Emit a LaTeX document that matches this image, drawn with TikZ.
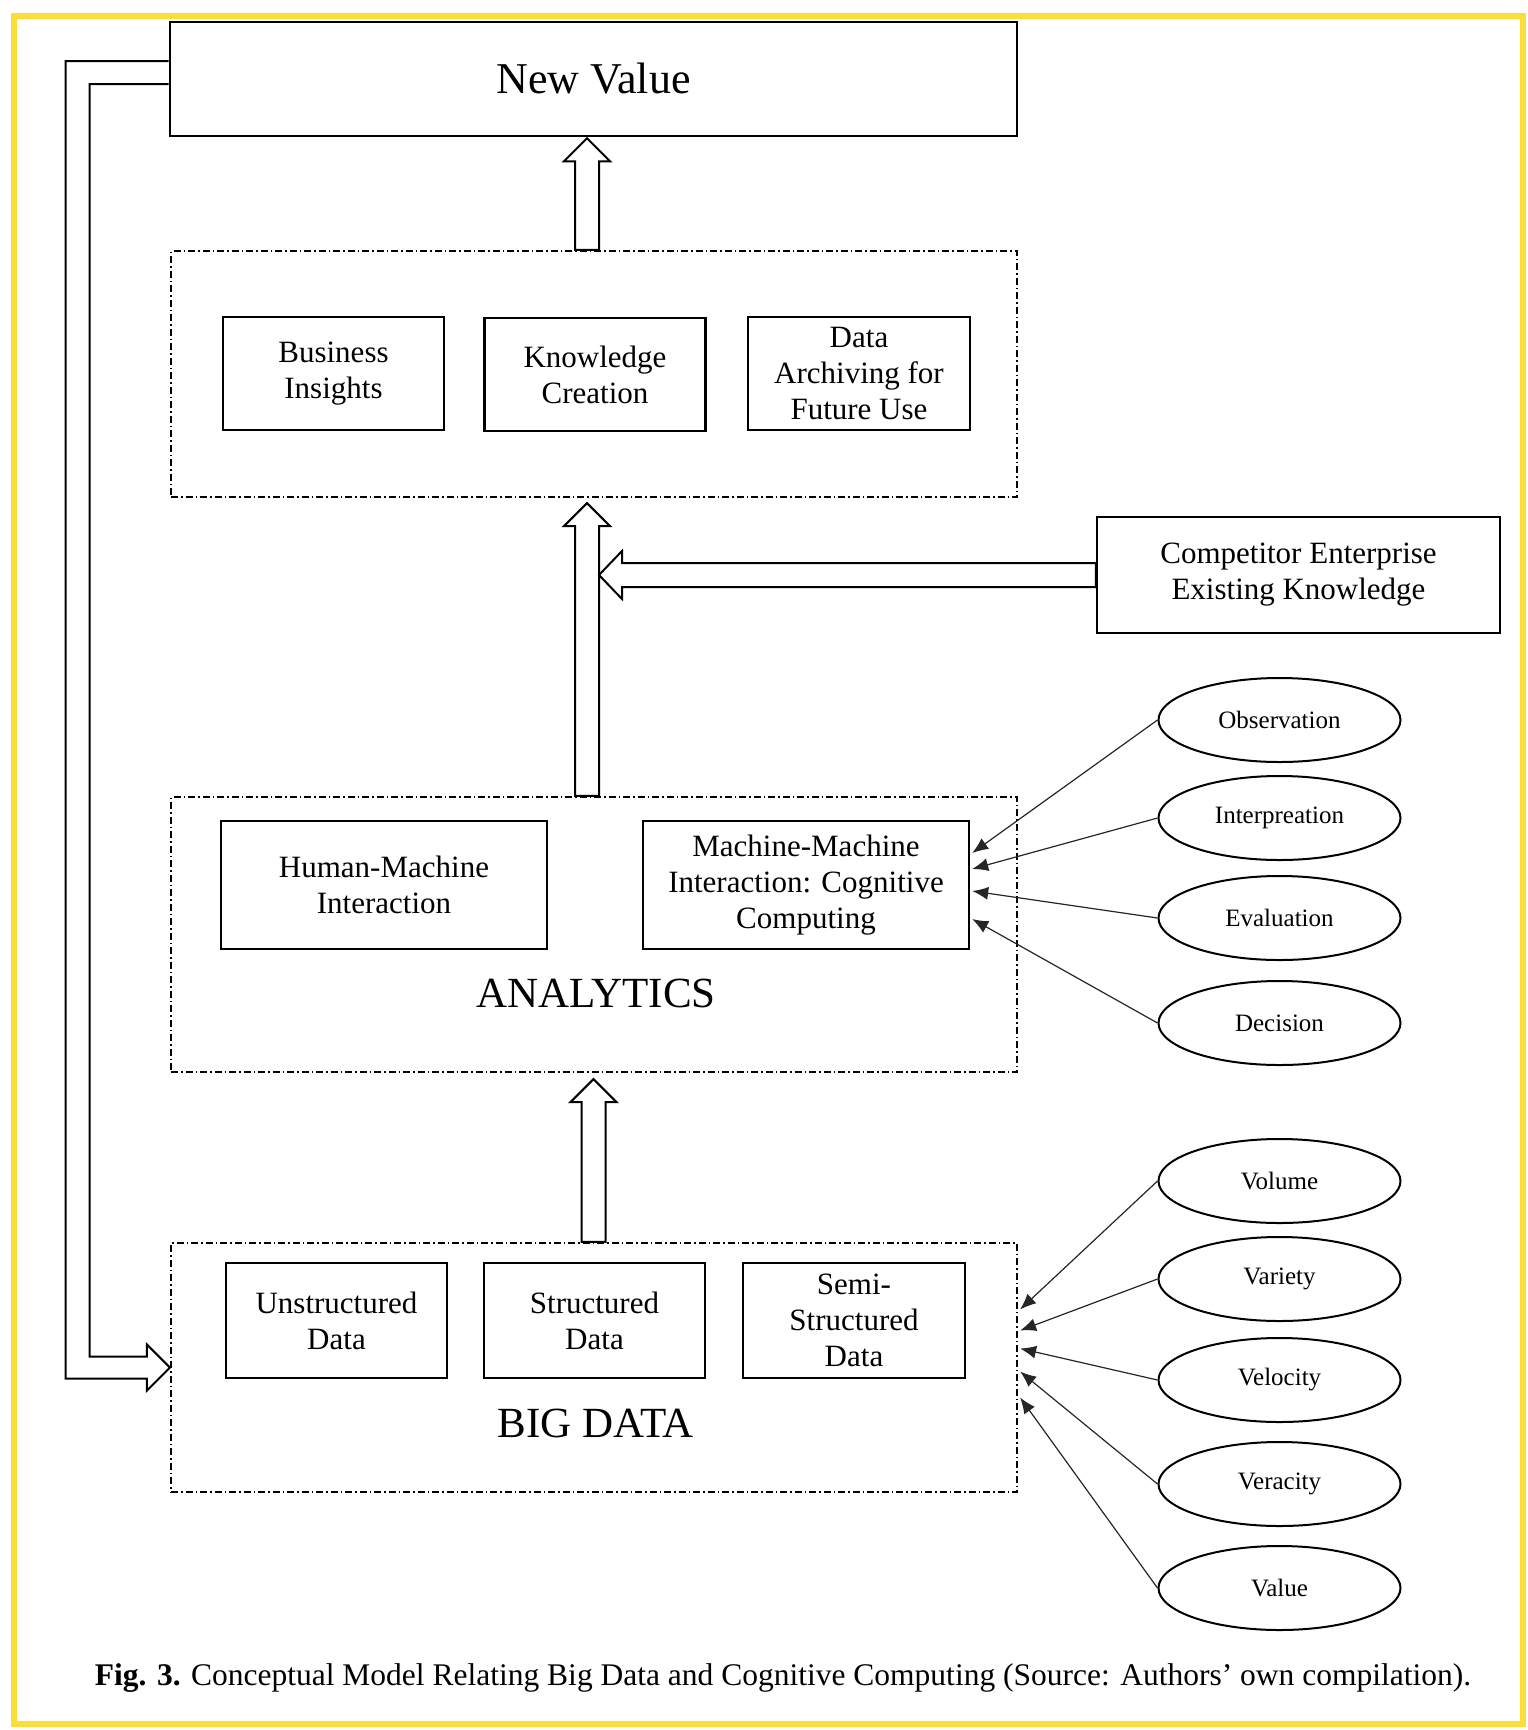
\documentclass[tikz,border=0pt]{standalone}
\usepackage{fontspec}
\setmainfont{Liberation Serif}
\usetikzlibrary{positioning,calc,shapes.geometric,arrows.meta}
\definecolor{framegold}{RGB}{254,221,58}

% hollow block arrows (foot, tip)
\newcommand{\vblock}[2]{%
  \draw[blockarrow] let \p1=(#1), \p2=(#2) in
    (\x1-12pt,\y1) -- (\x1-12pt,\y2-23pt) -- (\x1-23pt,\y2-23pt) -- (\x1,\y2)
    -- (\x1+23pt,\y2-23pt) -- (\x1+12pt,\y2-23pt) -- (\x1+12pt,\y1) -- cycle;}
\newcommand{\hblock}[2]{%
  \draw[blockarrow] let \p1=(#1), \p2=(#2) in
    (\x1,\y1+12pt) -- (\x2+23pt,\y1+12pt) -- (\x2+23pt,\y1+24pt) -- (\x2,\y1)
    -- (\x2+23pt,\y1-24pt) -- (\x2+23pt,\y1-12pt) -- (\x1,\y1-12pt) -- cycle;}

\begin{document}
\begin{tikzpicture}[x=1pt,y=-1pt,
    box/.style={draw,line width=2.4pt,minimum width=221pt,minimum height=113pt,
      align=center,inner sep=0pt,font=\fontsize{31}{36}\selectfont},
    group/.style={draw,line width=2.2pt,dash pattern=on 7pt off 3pt on 1.5pt off 3pt,
      minimum width=846pt,inner sep=0pt},
    facet/.style={draw,ellipse,line width=2pt,minimum width=242pt,minimum height=84pt,
      inner sep=0pt,font=\fontsize{25}{30}\selectfont},
    feed/.style={-{Latex[length=16pt,width=13pt]},line width=1.2pt,draw=black!85},
    blockarrow/.style={draw,line width=2pt,fill=white,line join=miter},
    headline/.style={font=\fontsize{43}{50}\selectfont}]

    \useasboundingbox (0,0) rectangle (1527,1730);
    \draw[framegold,line width=6pt] (14,16) rectangle (1523,1724);

    % top
    \node[box,minimum width=847pt,minimum height=114pt,line width=2.6pt,
      font=\fontsize{44}{50}\selectfont] (newval) at (593.5,79) {New Value};

    % outcomes
    \node[group,minimum height=246pt] (outcomes) at (594,374) {};
    \node[box] (insights) at (333.5,373.5) {Business\\Insights};
    \node[box] (knowledge) at (595,374.5) {Knowledge\\Creation};
    \node[box,minimum width=222pt] (archive) at (859,373.5) {Data\\Archiving for\\Future Use};

    \node[box,minimum width=403pt,minimum height=116pt] (comp) at (1298.5,575)
      {Competitor Enterprise\\Existing Knowledge};

    % analytics
    \node[group,minimum height=275pt] (analytics) at (594,934.5) {};
    \node[box,minimum width=326pt,minimum height=128pt] (hm) at (384,885)
      {Human-Machine\\Interaction};
    \node[box,minimum width=326pt,minimum height=128pt] (mm) at (806,885)
      {Machine-Machine\\Interaction: Cognitive\\Computing};
    \node[headline] (analyticslabel) at (596,993) {ANALYTICS};

    % big data
    \node[group,minimum height=249pt] (bigdata) at (594,1367.5) {};
    \node[box,minimum height=115pt] (unstr) at (336.5,1320.5) {Unstructured\\Data};
    \node[box,minimum height=115pt] (str) at (594.5,1320.5) {Structured\\Data};
    \node[box,minimum width=222pt,minimum height=115pt] (semi) at (854,1320.5)
      {Semi-\\Structured\\Data};
    \node[headline] (bigdatalabel) at (596,1423) {BIG DATA};

    % cognitive steps
    \node[facet] (obs) at (1279.5,720) {Observation};
    \node[facet] (interp) at (1279.5,818) {Interpreation};
    \node[facet] (eval) at (1279.5,918) {Evaluation};
    \node[facet] (dec) at (1279.5,1023) {Decision};

    % the Vs
    \node[facet] (volume) at (1279.5,1181) {Volume};
    \node[facet] (variety) at (1279.5,1279) {Variety};
    \node[facet] (velocity) at (1279.5,1380) {Velocity};
    \node[facet] (veracity) at (1279.5,1484) {Veracity};
    \node[facet] (value) at (1279.5,1588) {Value};

    \draw[feed] (obs.west) -- ($(mm.east)+(2,-32)$);
    \draw[feed] (interp.west) -- ($(mm.east)+(2,-16)$);
    \draw[feed] (eval.west) -- ($(mm.east)+(2,6)$);
    \draw[feed] (dec.west) -- ($(mm.east)+(2,34)$);

    \draw[feed] (volume.west) -- ($(bigdata.east)+(2,-58)$);
    \draw[feed] (variety.west) -- ($(bigdata.east)+(2,-37)$);
    \draw[feed] (velocity.west) -- ($(bigdata.east)+(2,-19)$);
    \draw[feed] (veracity.west) -- ($(bigdata.east)+(2,4)$);
    \draw[feed] (value.west) -- ($(bigdata.east)+(2,30)$);

    % hollow arrows
    \vblock{$(outcomes.north)+(-7,0)$}{$(newval.south)+(-7,1)$}
    \vblock{$(analytics.north)+(-7,0)$}{$(outcomes.south)+(-7,5)$}
    \vblock{$(bigdata.north)+(-0.5,0)$}{$(analytics.south)+(-0.5,6)$}
    \hblock{comp.west}{$(comp.west -| analytics.north)+(5,0)$}

    % feedback loop
    \draw[blockarrow,fill=none] let \p1=(newval.west), \p2=(bigdata.west) in
      (\x1,\y1+18pt) -- (\x1-103pt,\y1+18pt) -- (\x1-103pt,\y2-11pt)
      -- (\x2-23pt,\y2-11pt) -- (\x2-23pt,\y2-23pt) -- (\x2,\y2)
      -- (\x2-23pt,\y2+23pt) -- (\x2-23pt,\y2+11pt) -- (\x1-79pt,\y2+11pt)
      -- (\x1-79pt,\y1-5pt) -- (\x1,\y1-5pt);

    \node[font=\fontsize{31.5}{36}\selectfont] (caption) at (783,1678)
      {\textbf{Fig. 3.} Conceptual Model Relating Big Data and Cognitive Computing (Source: Authors’ own compilation).};
\end{tikzpicture}
\end{document}
